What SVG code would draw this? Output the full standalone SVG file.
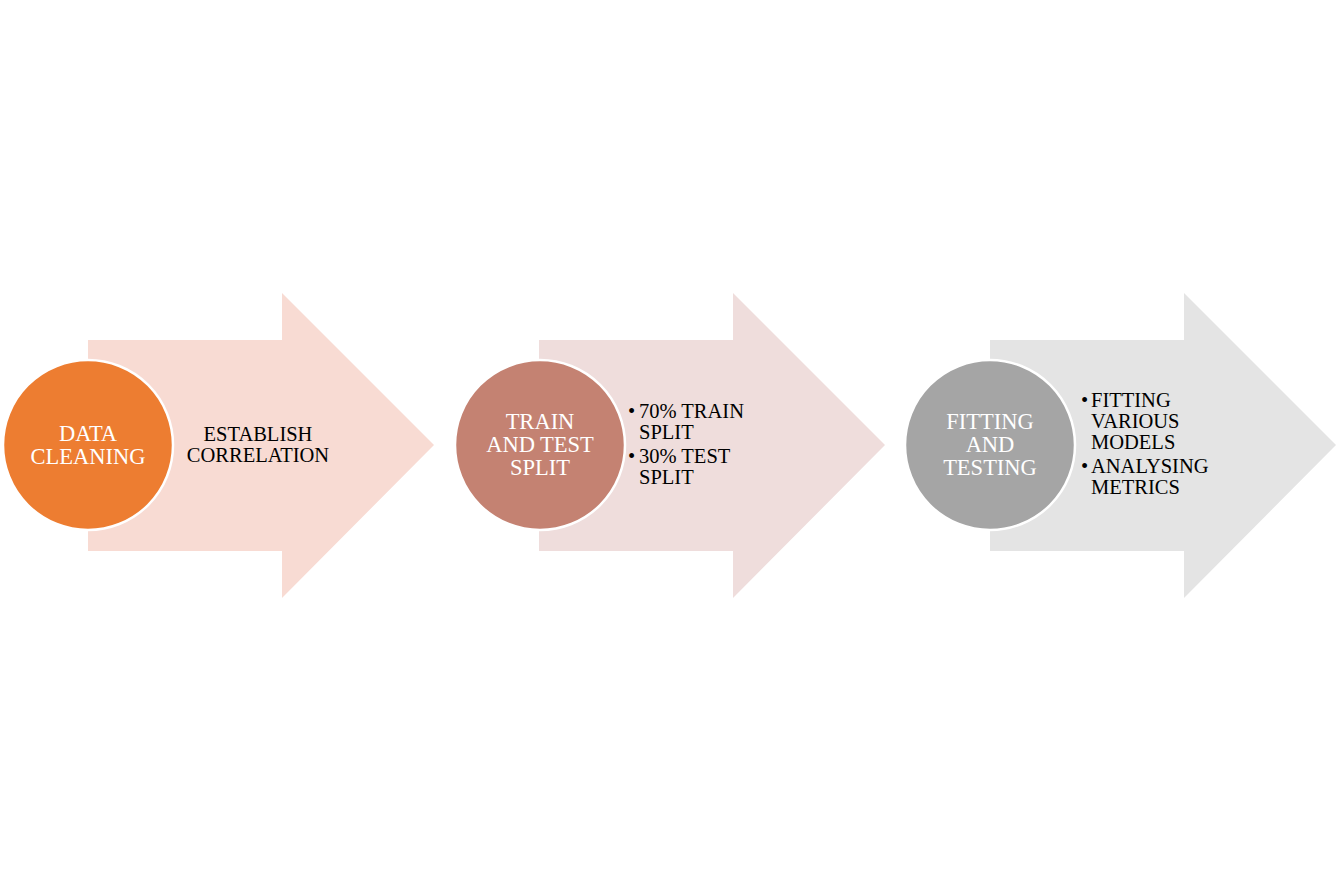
<svg xmlns="http://www.w3.org/2000/svg" width="1337" height="891" viewBox="0 0 1337 891">
<style>
.circ{stroke:#fff;stroke-width:2.5}
.ct{font-family:"Liberation Serif","Times New Roman",serif;font-size:22.5px;fill:#fff;text-anchor:middle}
.bt{font-family:"Liberation Serif","Times New Roman",serif;font-size:20.5px;fill:#000}
</style>
<rect width="1337" height="891" fill="#fff"/>
<g id="connectors"></g>
<g id="step1">
<polygon points="88,340 282,340 282,293 434,445 282,598 282,551 88,551" fill="#F8DBD3"/>
<circle class="circ" cx="88" cy="445" r="85" fill="#ED7D31"/>
<text class="ct" x="88" y="440.5">DATA</text>
<text class="ct" x="88" y="463.5">CLEANING</text>
<text class="bt" x="258" y="441" text-anchor="middle">ESTABLISH</text>
<text class="bt" x="258" y="461.5" text-anchor="middle">CORRELATION</text>
</g>
<g id="step2">
<polygon points="539,340 733,340 733,293 885,445 733,598 733,551 539,551" fill="#EFDDDC"/>
<circle class="circ" cx="540" cy="445" r="85" fill="#C48272"/>
<text class="ct" x="540" y="429">TRAIN</text>
<text class="ct" x="540" y="452">AND TEST</text>
<text class="ct" x="540" y="475">SPLIT</text>
<text class="bt" x="628" y="418">•</text><text class="bt" x="639" y="418">70% TRAIN</text>
<text class="bt" x="639" y="439">SPLIT</text>
<text class="bt" x="628" y="463">•</text><text class="bt" x="639" y="463">30% TEST</text>
<text class="bt" x="639" y="484">SPLIT</text>
</g>
<g id="step3">
<polygon points="990,340 1184,340 1184,293 1336,445 1184,598 1184,551 990,551" fill="#E4E4E4"/>
<circle class="circ" cx="990" cy="445" r="85" fill="#A5A5A5"/>
<text class="ct" x="990" y="429">FITTING</text>
<text class="ct" x="990" y="452">AND</text>
<text class="ct" x="990" y="475">TESTING</text>
<text class="bt" x="1081" y="407">•</text><text class="bt" x="1091" y="407">FITTING</text>
<text class="bt" x="1091" y="428">VARIOUS</text>
<text class="bt" x="1091" y="449">MODELS</text>
<text class="bt" x="1081" y="473">•</text><text class="bt" x="1091" y="473">ANALYSING</text>
<text class="bt" x="1091" y="494">METRICS</text>
</g>
</svg>
